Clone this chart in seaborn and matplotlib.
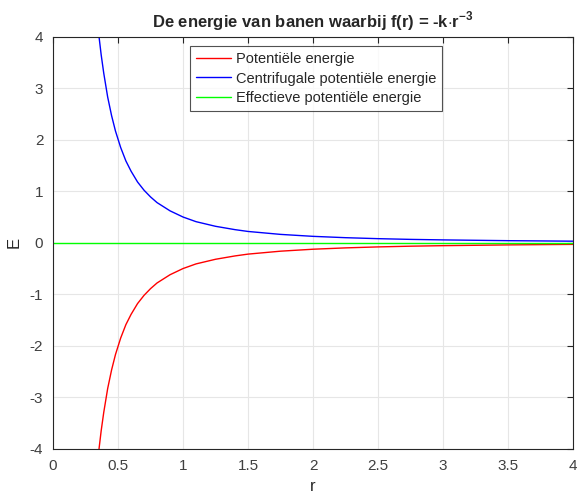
import numpy as np
import pandas as pd
import matplotlib
matplotlib.use('Agg')
import matplotlib.pyplot as plt
import seaborn as sns

# r-waarden en energieën
r = [0.34, 0.354, 0.37, 0.39, 0.42, 0.45, 0.48, 0.52, 0.56, 0.6, 0.65, 0.7, 0.75, 0.8,
     0.9, 1.0, 1.1, 1.25, 1.4, 1.5, 1.75, 2.0, 2.25, 2.5, 2.75, 3.0, 3.5, 4.0]
centrifugaal = [4.33, 3.99, 3.65, 3.29, 2.83, 2.47, 2.17, 1.85, 1.59, 1.39, 1.18, 1.02, 0.89, 0.78,
                0.62, 0.50, 0.41, 0.32, 0.255, 0.22, 0.163, 0.125, 0.099, 0.08, 0.066, 0.056, 0.041, 0.031]
potentieel = [-4.33, -3.99, -3.65, -3.29, -2.83, -2.47, -2.17, -1.85, -1.59, -1.39, -1.18, -1.02, -0.89, -0.78,
              -0.62, -0.50, -0.41, -0.32, -0.255, -0.22, -0.163, -0.125, -0.099, -0.08, -0.066, -0.056, -0.041, -0.031]
r_eff = [0.0, 4.0]
effectief = [0.0, 0.0]

namen = ['Potentiële energie', 'Centrifugale potentiële energie', 'Effectieve potentiële energie']
df_long = pd.concat([
    pd.DataFrame({'r': r, 'E': potentieel, 'soort': namen[0]}),
    pd.DataFrame({'r': r, 'E': centrifugaal, 'soort': namen[1]}),
    pd.DataFrame({'r': r_eff, 'E': effectief, 'soort': namen[2]}),
], ignore_index=True)

sns.set_style('white')
plt.rcParams['font.family'] = ['Liberation Sans', 'DejaVu Sans']
plt.rcParams['axes.unicode_minus'] = False
plt.rcParams['mathtext.fontset'] = 'custom'
plt.rcParams['mathtext.bf'] = 'Liberation Sans:bold'
plt.rcParams['mathtext.rm'] = 'Liberation Sans'

fig, ax = plt.subplots(figsize=(5.77, 4.97), dpi=100)
fig.subplots_adjust(left=0.092, right=0.993, top=0.926, bottom=0.097)

sns.lineplot(data=df_long, x='r', y='E', hue='soort', hue_order=namen, ax=ax, linewidth=1,
             palette=['#ff0000', '#0000ff', '#00ff00'], sort=False)

ax.set_xlim(0, 4)
ax.set_ylim(-4, 4)
ax.set_xticks(np.arange(0, 4.01, 0.5))
ax.set_xticklabels(['0', '0.5', '1', '1.5', '2', '2.5', '3', '3.5', '4'])
ax.set_yticks(range(-4, 5))
ax.grid(True, color='#e6e6e6', linewidth=0.8)
ax.tick_params(direction='in', length=4, labelsize=11, colors='#262626', labelcolor='#404040',
               top=True, right=True, pad=7)
for s in ax.spines.values():
    s.set_color('#262626')
    s.set_linewidth(0.8)

ax.set_xlabel('r', fontsize=12, color='#262626', labelpad=5)
ax.set_ylabel('E', fontsize=12, color='#262626', labelpad=6)
ax.set_title(r'De energie van banen waarbij f(r) = -k$\cdot$r$^{\mathbf{-3}}$',
             fontsize=12, fontweight='bold', pad=7)

leg = ax.legend(loc='upper left', bbox_to_anchor=(0.263, 0.978), fontsize=10.5,
                frameon=True, fancybox=False, edgecolor='#262626', handlelength=2.4,
                borderaxespad=0, labelspacing=0.4, borderpad=0.4, handletextpad=0.35)
leg.get_frame().set_linewidth(0.8)

fig.savefig('out.png', dpi=100)
